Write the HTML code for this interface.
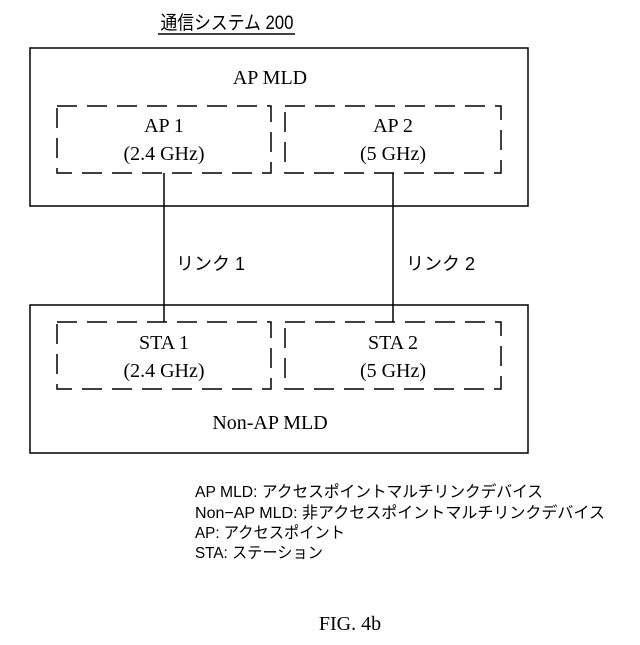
<!DOCTYPE html>
<html><head><meta charset="utf-8"><style>
body{margin:0;background:#fff;width:640px;height:640px;overflow:hidden}
svg text{fill:#000}
.s{font-family:"Liberation Serif","Noto Serif CJK SC",serif;font-size:20px}
.g{font-family:"Liberation Sans","Noto Sans CJK JP",sans-serif}
</style></head><body>
<svg width="640" height="640" viewBox="0 0 640 640" xmlns="http://www.w3.org/2000/svg">
<text x="227" y="29" text-anchor="middle" class="g" font-size="19" textLength="133" lengthAdjust="spacingAndGlyphs">通信システム 200</text>
<line x1="158" y1="34" x2="295" y2="34" stroke="#000" stroke-width="1.5"/>
<rect x="30" y="48" width="498" height="158" fill="none" stroke="#000" stroke-width="1.5"/>
<text x="270" y="84" text-anchor="middle" class="s">AP MLD</text>
<g fill="none" stroke="#000" stroke-width="1.5" stroke-dasharray="20,10">
<rect x="57" y="106" width="214" height="67"/>
<rect x="285" y="106" width="216" height="67"/>
<rect x="57" y="322" width="214" height="67"/>
<rect x="285" y="322" width="216" height="67"/>
</g>
<text x="164" y="132" text-anchor="middle" class="s">AP 1</text>
<text x="164" y="160" text-anchor="middle" class="s">(2.4 GHz)</text>
<text x="393" y="132" text-anchor="middle" class="s">AP 2</text>
<text x="393" y="160" text-anchor="middle" class="s">(5 GHz)</text>
<line x1="164" y1="173" x2="164" y2="322" stroke="#000" stroke-width="1.5"/>
<line x1="393" y1="173" x2="393" y2="322" stroke="#000" stroke-width="1.5"/>
<text x="176" y="270" class="g" font-size="18">リンク 1</text>
<text x="406" y="270" class="g" font-size="18">リンク 2</text>
<rect x="30" y="305" width="498" height="148" fill="none" stroke="#000" stroke-width="1.5"/>
<text x="164" y="349" text-anchor="middle" class="s">STA 1</text>
<text x="164" y="377" text-anchor="middle" class="s">(2.4 GHz)</text>
<text x="393" y="349" text-anchor="middle" class="s">STA 2</text>
<text x="393" y="377" text-anchor="middle" class="s">(5 GHz)</text>
<text x="270" y="429" text-anchor="middle" class="s">Non-AP MLD</text>
<g class="g" font-size="16">
<text x="195" y="497" textLength="348" lengthAdjust="spacingAndGlyphs">AP MLD: アクセスポイントマルチリンクデバイス</text>
<text x="195" y="518" textLength="410" lengthAdjust="spacingAndGlyphs">Non−AP MLD: 非アクセスポイントマルチリンクデバイス</text>
<text x="195" y="538" textLength="150" lengthAdjust="spacingAndGlyphs">AP: アクセスポイント</text>
<text x="195" y="558" textLength="128" lengthAdjust="spacingAndGlyphs">STA: ステーション</text>
</g>
<text x="350" y="630" text-anchor="middle" class="s" font-size="22">FIG. 4b</text>
</svg>
</body></html>
